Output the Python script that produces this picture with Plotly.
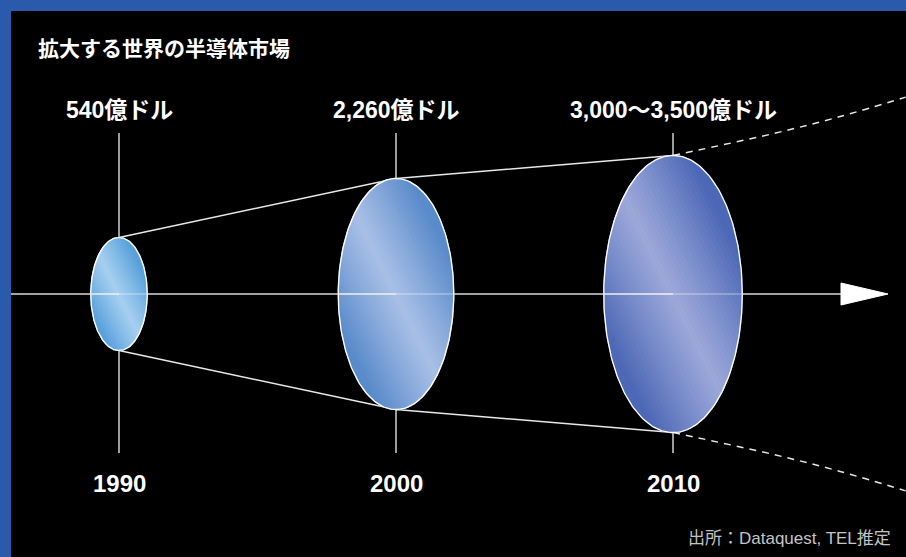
import numpy as np
import plotly.graph_objects as go

# ---------------- data ----------------
years = [1990, 2000, 2010]
year_labels = ["1990", "2000", "2010"]
market_value = [540, 2260, 3250]          # 億ドル (2010: midpoint of 3,000〜3,500)
value_labels = ["540億ドル", "2,260億ドル", "3,000〜3,500億ドル"]
proj_years = [2010, 2013.6, 2016.0, 2018.4]   # dashed projection beyond 2010
proj_ratio = [1.0, 1.157, 1.279, 1.421]       # projected size relative to 2010

title_text = "拡大する世界の半導体市場"
source_text = "出所：Dataquest, TEL推定"

# ---------------- styling / scales ----------------
W, H = 906, 557
PX_PER_YEAR = 27.7
X_LO = 1990 - 119 / PX_PER_YEAR
X_HI = X_LO + W / PX_PER_YEAR
CY = 294                       # pixel row of the time axis
Y_LO, Y_HI = -(H - CY), CY     # y data units = pixels (up positive)
K = 2.43                       # half-height per sqrt(億ドル)

light_cols = ["#a6cff0", "#a8bfe6", "#9ca8da"]
dark_cols = ["#5aa2dc", "#5a8bcb", "#4d68b6"]


def px2yr(px):
    return X_LO + px / PX_PER_YEAR


def hex2rgb(h):
    h = h.lstrip("#")
    return [int(h[i:i + 2], 16) for i in (0, 2, 4)]


def mix(c1, c2, f):
    a, b = hex2rgb(c1), hex2rgb(c2)
    return "rgb(%d,%d,%d)" % tuple(round(a[i] + (b[i] - a[i]) * f) for i in range(3))


def clip_half(pts, f):
    out = []
    n = len(pts)
    for i in range(n):
        p, q = pts[i], pts[(i + 1) % n]
        fp, fq = f(p), f(q)
        if fp >= 0:
            out.append(p)
        if (fp >= 0) != (fq >= 0):
            s = fp / (fp - fq)
            out.append((p[0] + s * (q[0] - p[0]), p[1] + s * (q[1] - p[1])))
    return out


theta = np.linspace(0, 2 * np.pi, 240, endpoint=False)
unit = [(float(np.cos(t)), float(np.sin(t))) for t in theta]

ry = [K * np.sqrt(v) for v in market_value]
rx_yr = [r / 2 / PX_PER_YEAR for r in ry]

fig = go.Figure()

# time axis line
fig.add_trace(go.Scatter(x=[px2yr(11), px2yr(842)], y=[0, 0], mode="lines",
                         line=dict(color="#d8d8d8", width=1.5), hoverinfo="skip"))
# arrow head
fig.add_trace(go.Scatter(x=[px2yr(841), px2yr(888), px2yr(841), px2yr(841)],
                         y=[11, 0, -11, 11], mode="lines", fill="toself",
                         fillcolor="white", line=dict(color="white", width=1),
                         hoverinfo="skip"))
# vertical year lines
for yr in years:
    fig.add_trace(go.Scatter(x=[yr, yr], y=[CY - 133, CY - 453], mode="lines",
                             line=dict(color="#d0d0d0", width=1.5), hoverinfo="skip"))
# connecting lines
for sgn in (1, -1):
    fig.add_trace(go.Scatter(x=years, y=[sgn * r for r in ry], mode="lines",
                             line=dict(color="#e8e8e8", width=1.5), hoverinfo="skip"))
    fig.add_trace(go.Scatter(x=proj_years, y=[sgn * ry[-1] * p for p in proj_ratio],
                             mode="lines", line=dict(color="#e8e8e8", width=1.5,
                                                     dash="7px,6px", shape="spline"),
                             hoverinfo="skip"))

# gradient-filled ellipses (diagonal bands)
N = 44
edges = np.linspace(-np.sqrt(2) - 1e-6, np.sqrt(2) + 1e-6, N + 1)
for i, yr in enumerate(years):
    for b in range(N):
        t0, t1 = edges[b], edges[b + 1]
        poly = clip_half(unit, lambda p, t0=t0: p[0] + p[1] - t0)
        poly = clip_half(poly, lambda p, t1=t1: t1 - (p[0] + p[1]))
        if len(poly) < 3:
            continue
        tm = 0.5 * (t0 + t1)
        f = min(1.0, abs(tm) / 1.25) ** 1.1
        col = mix(light_cols[i], dark_cols[i], f)
        xs = [yr + p[0] * rx_yr[i] for p in poly] + [yr + poly[0][0] * rx_yr[i]]
        ys = [p[1] * ry[i] for p in poly] + [poly[0][1] * ry[i]]
        fig.add_trace(go.Scatter(x=xs, y=ys, mode="lines", fill="toself",
                                 fillcolor=col, line=dict(color=col, width=1.3),
                                 hoverinfo="skip"))
    # outline
    xs = [yr + p[0] * rx_yr[i] for p in unit] + [yr + rx_yr[i]]
    ys = [p[1] * ry[i] for p in unit] + [0]
    fig.add_trace(go.Scatter(x=xs, y=ys, mode="lines",
                             line=dict(color="white", width=1.3), hoverinfo="skip"))
    # axis line over the ellipse: bright left half, faint right half
    fig.add_trace(go.Scatter(x=[yr - rx_yr[i], yr], y=[0, 0], mode="lines",
                             line=dict(color="#f0f0f0", width=1.5), hoverinfo="skip"))
    fig.add_trace(go.Scatter(x=[yr, yr + rx_yr[i]], y=[0, 0], mode="lines",
                             line=dict(color="rgba(255,255,255,0.35)", width=1.5),
                             hoverinfo="skip"))

LABEL_FONT = "Liberation Sans, Arial, Noto Sans CJK JP"
annotations = []
for yr, lab in zip(years, value_labels):
    annotations.append(dict(x=yr, y=CY - 110, xref="x", yref="y", text=lab,
                            showarrow=False, xanchor="center", yanchor="middle",
                            font=dict(family=LABEL_FONT, size=23, color="white",
                                      weight="bold")))
for yr, lab in zip(years, year_labels):
    annotations.append(dict(x=yr, y=CY - 483, xref="x", yref="y", text=lab,
                            showarrow=False, xanchor="center", yanchor="middle",
                            font=dict(family=LABEL_FONT, size=24, color="white",
                                      weight="bold")))
annotations.append(dict(x=36 / W, y=1 - 47 / H, xref="paper", yref="paper",
                        text=title_text, showarrow=False, xanchor="left",
                        yanchor="middle",
                        font=dict(family="Noto Sans CJK JP", size=21, color="white",
                                  weight="bold")))
annotations.append(dict(x=893 / W, y=1 - 538 / H, xref="paper", yref="paper",
                        text=source_text, showarrow=False, xanchor="right",
                        yanchor="middle",
                        font=dict(family="Liberation Sans, Noto Sans CJK JP", size=17,
                                  color="#c4c4c4")))

fig.update_layout(
    width=W, height=H,
    margin=dict(l=0, r=0, t=0, b=0),
    paper_bgcolor="#2a5aab",
    plot_bgcolor="rgba(0,0,0,0)",
    showlegend=False,
    xaxis=dict(range=[X_LO, X_HI], visible=False, fixedrange=True),
    yaxis=dict(range=[Y_LO, Y_HI], visible=False, fixedrange=True),
    shapes=[dict(type="rect", xref="paper", yref="paper", x0=11 / W, x1=1,
                 y0=0, y1=1 - 11 / H, fillcolor="black", line=dict(width=0),
                 layer="below")],
    annotations=annotations,
)

fig.write_html(
    "out.html",
    config={"displayModeBar": False},
    post_script="document.body.style.margin='0';document.body.style.padding='0';"
                "document.documentElement.style.overflow='hidden';",
)
